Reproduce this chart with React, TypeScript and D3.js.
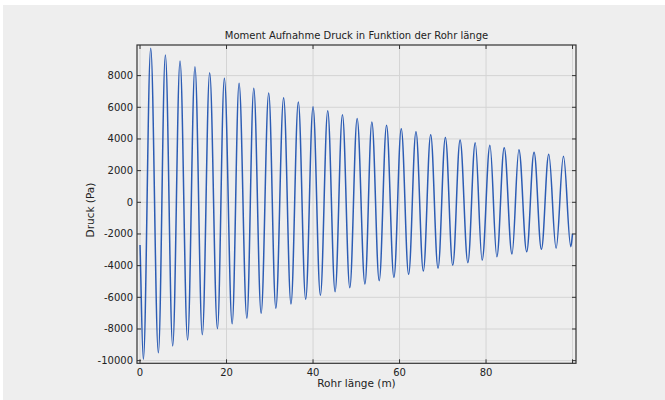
import React, { useEffect, useRef } from 'react';
import * as d3 from 'd3';

// Extrema of the pressure curve (Rohr länge in m, Druck in Pa)
const laenge = [
  0, 0.77, 2.47, 4.24, 5.86, 7.55, 9.25, 11.0, 12.7, 14.4, 16.1, 17.9, 19.5, 21.3, 22.9,
  24.7, 26.3, 28.0, 29.75, 31.4, 33.2, 34.9, 36.6, 38.3, 40.0, 41.7, 43.4, 45.1, 46.8,
  48.5, 50.2, 52.0, 53.6, 55.3, 57.0, 58.7, 60.4, 62.1, 63.8, 65.5, 67.2, 68.9, 70.6,
  72.3, 74.0, 75.8, 77.5, 79.1, 80.9, 82.5, 84.2, 86.0, 87.6, 89.4, 91.1, 92.8, 94.5,
  96.2, 97.9, 99.6, 100
];
const druck = [
  -2700, -9915, 9725, -9498, 9302, -9075, 8918, -8696, 8564, -8361, 8185, -7982, 7830,
  -7666, 7515, -7325, 7199, -7010, 6902, -6694, 6605, -6422, 6333, -6126, 6037, -5873,
  5785, -5646, 5532, -5393, 5299, -5159, 5065, -4950, 4862, -4737, 4648, -4547, 4458,
  -4338, 4269, -4168, 4100, -3978, 3933, -3810, 3758, -3650, 3600, -3434, 3448, -3265,
  3322, -3120, 3158, -2968, 3031, -2905, 2905, -2800, -2000
];

const xTicks = [0, 20, 40, 60, 80, 100];
const xLabels = [0, 20, 40, 60, 80];
const yTicks = [-10000, -8000, -6000, -4000, -2000, 0, 2000, 4000, 6000, 8000];

const title = 'Moment Aufnahme Druck in Funktion der Rohr länge';
const xTitle = 'Rohr länge (m)';
const yTitle = 'Druck (Pa)';

const W = 665;
const H = 400;

const App = () => {
  const svgRef = useRef<SVGSVGElement>(null);

  useEffect(() => {
    const svg = d3.select(svgRef.current);
    svg.selectAll('*').remove();

    const left = 137, right = 576, top = 45, bottom = 363.3;
    const font = 'DejaVu Sans, sans-serif';

    const x = d3.scaleLinear().domain([-0.7, 100.8]).range([left, right]);
    const y = d3.scaleLinear().domain([-10167, 9934]).range([bottom, top]);

    svg.append('rect').attr('width', W).attr('height', H).attr('fill', '#ffffff');
    svg.append('rect').attr('x', 3).attr('y', 5).attr('width', W - 3).attr('height', H - 5).attr('fill', '#eeeeee');

    // Gitter
    const grid = svg.append('g').attr('stroke', '#d4d4d4').attr('stroke-width', 1);
    grid.selectAll('.gx').data(xTicks).enter().append('line')
      .attr('x1', d => x(d)).attr('x2', d => x(d))
      .attr('y1', top).attr('y2', bottom);
    grid.selectAll('.gy').data(yTicks).enter().append('line')
      .attr('x1', left).attr('x2', right)
      .attr('y1', d => y(d)).attr('y2', d => y(d));

    // Kurve: zwischen den Extrema kubische Bezier mit waagrechten Tangenten
    svg.append('clipPath').attr('id', 'plotclip')
      .append('rect').attr('x', left).attr('y', top)
      .attr('width', right - left).attr('height', bottom - top);

    const n = laenge.length;
    const a = 0.3675;
    const p = d3.path();
    p.moveTo(x(laenge[0]), y(druck[0]));
    for (let i = 1; i < n; i++) {
      const x0 = x(laenge[i - 1]), y0 = y(druck[i - 1]);
      const x1 = x(laenge[i]), y1 = y(druck[i]);
      const dx = x1 - x0;
      // Anfang / Ende sind keine Extrema -> Tangente Richtung Nachbarpunkt
      const c1x = x0 + a * dx;
      const c1y = i === 1 ? y0 + a * (y1 - y0) : y0;
      const c2x = x1 - a * dx;
      const c2y = i === n - 1 ? y1 - a * (y1 - y0) : y1;
      p.bezierCurveTo(c1x, c1y, c2x, c2y, x1, y1);
    }

    svg.append('path')
      .attr('clip-path', 'url(#plotclip)')
      .attr('d', p.toString())
      .attr('fill', 'none')
      .attr('stroke', '#2c5cb4')
      .attr('stroke-width', 1.5);

    // Rahmen
    svg.append('rect')
      .attr('x', left).attr('y', top)
      .attr('width', right - left).attr('height', bottom - top)
      .attr('fill', 'none').attr('stroke', '#333333').attr('stroke-width', 1.2);

    // Ticks innen auf allen Seiten
    const tk = svg.append('g').attr('stroke', '#333333').attr('stroke-width', 1);
    const tl = 4;
    tk.selectAll('.tb').data(xTicks).enter().append('line')
      .attr('x1', d => x(d)).attr('x2', d => x(d)).attr('y1', bottom).attr('y2', bottom - tl);
    tk.selectAll('.tt').data(xTicks).enter().append('line')
      .attr('x1', d => x(d)).attr('x2', d => x(d)).attr('y1', top).attr('y2', top + tl);
    tk.selectAll('.tlft').data(yTicks).enter().append('line')
      .attr('x1', left).attr('x2', left + tl).attr('y1', d => y(d)).attr('y2', d => y(d));
    tk.selectAll('.trt').data(yTicks).enter().append('line')
      .attr('x1', right).attr('x2', right - tl).attr('y1', d => y(d)).attr('y2', d => y(d));

    // Beschriftungen
    svg.selectAll('.xl').data(xLabels).enter().append('text')
      .attr('x', d => x(d)).attr('y', bottom + 13)
      .attr('text-anchor', 'middle')
      .style('font-family', font).style('font-size', '10px').style('fill', '#222')
      .text(d => d);

    svg.selectAll('.yl').data(yTicks).enter().append('text')
      .attr('x', left - 4).attr('y', d => y(d) + 3.5)
      .attr('text-anchor', 'end')
      .style('font-family', font).style('font-size', '10px').style('fill', '#222')
      .text(d => d);

    svg.append('text')
      .attr('x', (left + right) / 2).attr('y', 39)
      .attr('text-anchor', 'middle')
      .style('font-family', font).style('font-size', '10px').style('fill', '#222')
      .text(title);

    svg.append('text')
      .attr('x', (left + right) / 2).attr('y', 387)
      .attr('text-anchor', 'middle')
      .style('font-family', font).style('font-size', '10.5px').style('fill', '#222')
      .text(xTitle);

    svg.append('text')
      .attr('transform', `translate(94,210) rotate(-90)`)
      .attr('text-anchor', 'middle')
      .style('font-family', font).style('font-size', '10.5px').style('fill', '#222')
      .text(yTitle);
  }, []);

  return (
    <svg
      ref={svgRef}
      width={W}
      height={H}
      style={{ position: 'absolute', left: 0, top: 0, display: 'block' }}
    />
  );
};

export default App;
